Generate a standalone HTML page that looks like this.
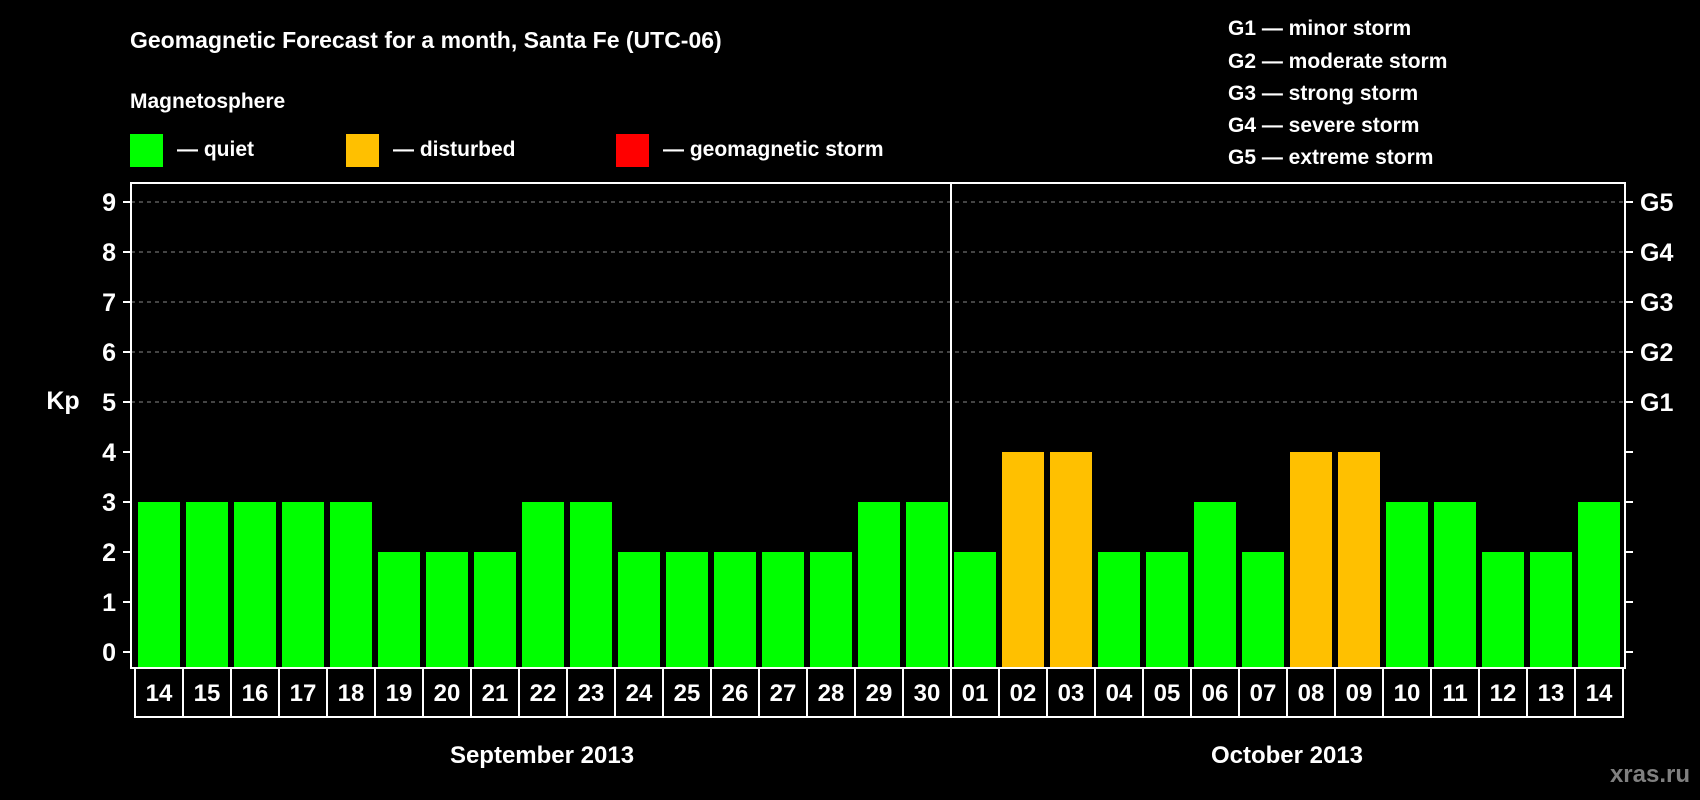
<!DOCTYPE html>
<html><head><meta charset="utf-8"><style>
html,body{margin:0;padding:0;background:#000;}
svg{display:block;font-family:"Liberation Sans",Arial,sans-serif;font-weight:bold;}
</style></head><body>
<svg id="c" width="1700" height="800" viewBox="0 0 1700 800">
<rect width="1700" height="800" fill="#000"/>
<text x="130" y="48" fill="#fff" font-size="23">Geomagnetic Forecast for a month, Santa Fe (UTC-06)</text>
<text x="130" y="108" fill="#fff" font-size="21">Magnetosphere</text>
<g><rect x="130" y="134" width="33" height="33" fill="#00ff00"/><text x="177" y="156" fill="#fff" font-size="21">— quiet</text></g>
<g><rect x="346" y="134" width="33" height="33" fill="#ffc000"/><text x="393" y="156" fill="#fff" font-size="21">— disturbed</text></g>
<g><rect x="616" y="134" width="33" height="33" fill="#ff0000"/><text x="663" y="156" fill="#fff" font-size="21">— geomagnetic storm</text></g>
<g fill="#fff" font-size="21">
<text x="1228" y="35">G1 — minor storm</text>
<text x="1228" y="68">G2 — moderate storm</text>
<text x="1228" y="100">G3 — strong storm</text>
<text x="1228" y="132">G4 — severe storm</text>
<text x="1228" y="164">G5 — extreme storm</text>
</g>
<text x="63" y="409" fill="#fff" font-size="25" text-anchor="middle">Kp</text>
<text x="542" y="763" fill="#fff" font-size="24" text-anchor="middle">September 2013</text>
<text x="1287" y="763" fill="#fff" font-size="24" text-anchor="middle">October 2013</text>
<text x="1690" y="782" fill="#808080" font-size="24" text-anchor="end">xras.ru</text>
<g id="plot"></g>
</svg>
<script>
const days = ["14","15","16","17","18","19","20","21","22","23","24","25","26","27","28","29","30","01","02","03","04","05","06","07","08","09","10","11","12","13","14"];
const kp = [3,3,3,3,3,2,2,2,3,3,2,2,2,2,2,3,3,2,4,4,2,2,3,2,4,4,3,3,2,2,3];
const yTicks = [0,1,2,3,4,5,6,7,8,9];
const gLabels = ["","","","","","G1","G2","G3","G4","G5"];
const NS="http://www.w3.org/2000/svg";
const g=document.getElementById('plot');
const X0=135, SW=48, PL=131, PR=1625, PT=183, PB=668;
const y=v=>652-v*50;
const x=i=>X0+i*SW;
function mk(t,a){const e=document.createElementNS(NS,t);for(const k in a)e.setAttribute(k,a[k]);g.appendChild(e);return e;}
yTicks.forEach((v,i)=>{
  if(v>=5){const l=mk('line',{x1:PL,x2:PR,y1:y(v),y2:y(v),stroke:'#888','stroke-dasharray':'4,4','stroke-width':1});
  
  }
  const t1=mk('line',{x1:PL-8,x2:PL,y1:y(v),y2:y(v),stroke:'#fff','stroke-width':2});
  
  
  const t2=mk('line',{x1:PR,x2:PR+8,y1:y(v),y2:y(v),stroke:'#fff','stroke-width':2});
  
  
  const tl=mk('text',{x:116,y:y(v)+9,fill:'#fff','font-size':25,'text-anchor':'end'});tl.textContent=v;
  
  
  if(gLabels[i]){const gl=mk('text',{x:1640,y:y(v)+9,fill:'#fff','font-size':25});gl.textContent=gLabels[i];
  
  }
});
kp.forEach((v,i)=>{
  const b=mk('rect',{x:x(i)+3,y:y(v),width:SW-6,height:PB-y(v),fill:v>=5?'#ff0000':(v>=4?'#ffc000':'#00ff00')});
  
  
  const c=mk('rect',{x:x(i),y:PB,width:SW,height:49,fill:'none',stroke:'#fff','stroke-width':2});
  
  
  const t=mk('text',{x:x(i)+SW/2,y:PB+33,fill:'#fff','font-size':24,'text-anchor':'middle'});t.textContent=days[i];
  
  
});
const f=mk('rect',{x:PL,y:PT,width:PR-PL,height:PB-PT,fill:'none',stroke:'#fff','stroke-width':2});


const d=mk('line',{x1:x(17),x2:x(17),y1:PT,y2:PB,stroke:'#fff','stroke-width':2});


</script>
</body></html>
